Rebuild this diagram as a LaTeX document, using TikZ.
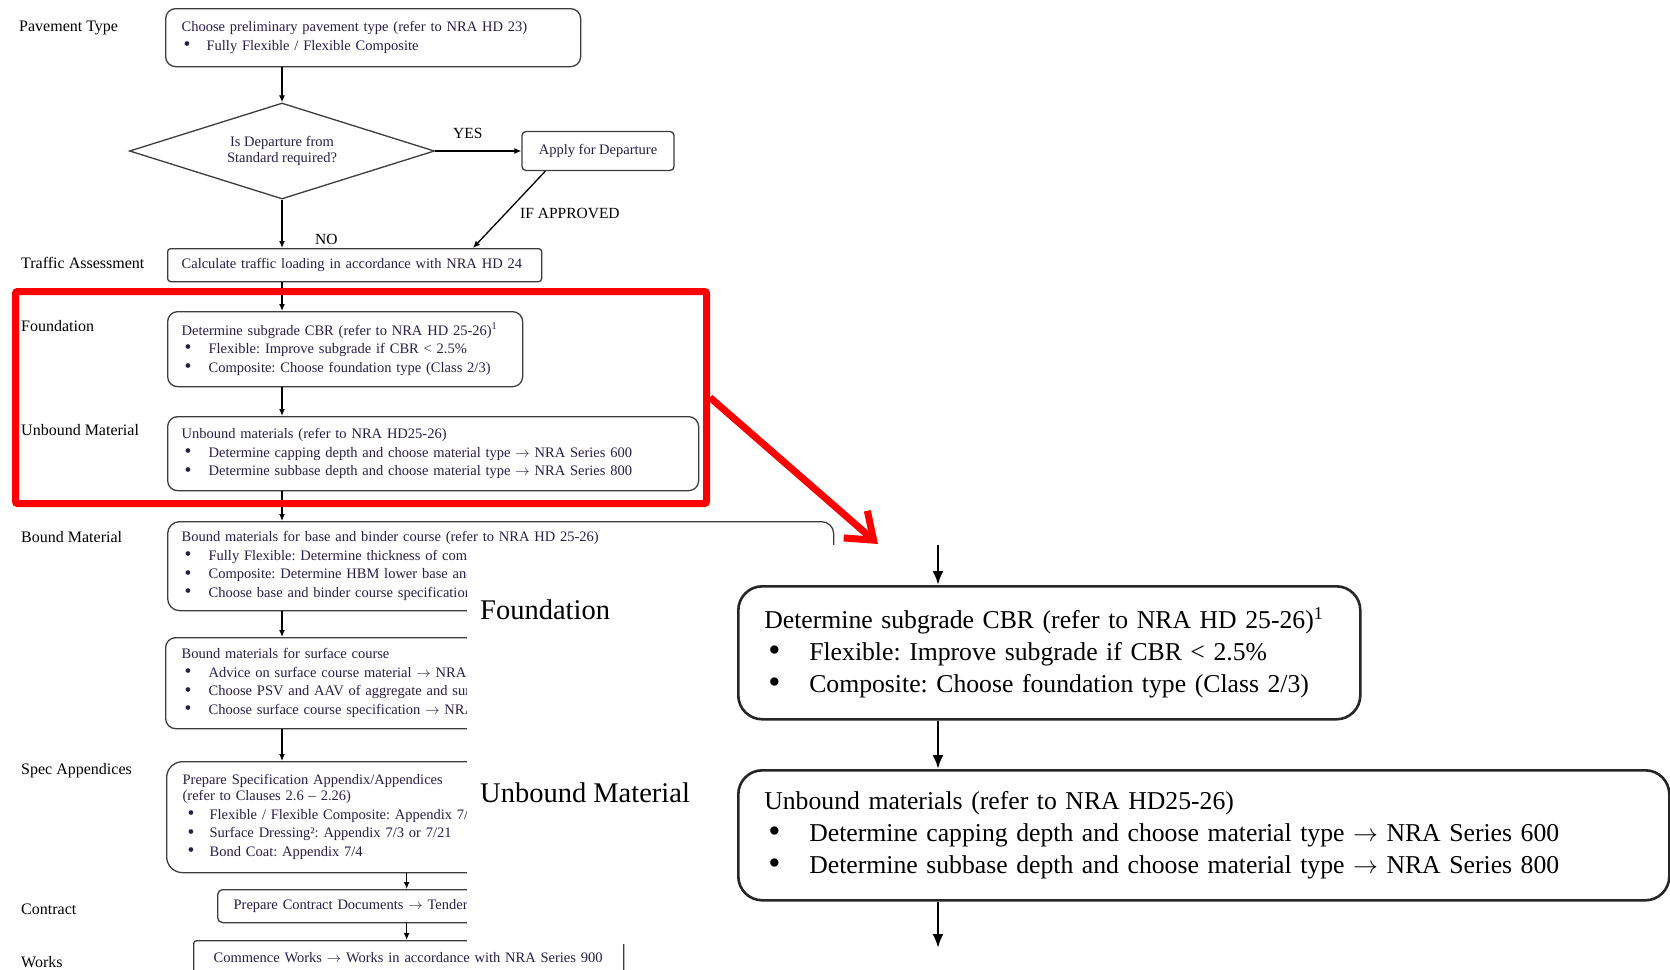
\documentclass[tikz,border=0pt]{standalone}
\usepackage{fontspec}
\setmainfont{Liberation Serif}
\usetikzlibrary{shapes.geometric,arrows.meta,calc}
\definecolor{ltext}{RGB}{40,30,70}
\definecolor{lline}{RGB}{60,60,60}
\newcommand\bitem[3]{\makebox[#1][l]{\hspace{#2}\raisebox{-0.03em}{\scalebox{1.35}{\textbullet}}}#3}
\newcommand\ar{\ensuremath{\rightarrow}}
\frenchspacing
\begin{document}
\begin{tikzpicture}[x=1pt,y=-1pt,
  lbl/.style={font=\fontsize{16}{19}\selectfont, anchor=base west, inner sep=0},
  box/.style={draw=lline, line width=1.3pt, rounded corners=10pt, align=left, inner ysep=0pt,
    anchor=north west, text=ltext, font=\fontsize{14.5}{18.5}\selectfont},
  arr/.style={draw=black, line width=1.3pt, -{Latex[length=7pt,width=6pt]}},
  clab/.style={font=\fontsize{15.5}{18}\selectfont, anchor=base west, inner sep=0},
  ibox/.style={draw=black!85, line width=2.6pt, rounded corners=24pt, align=left, inner xsep=26pt,
    inner ysep=0pt, anchor=north west, font=\fontsize{25.7}{32}\selectfont},
  iarr/.style={draw=black, line width=2.6pt, -{Latex[length=14pt,width=11pt]}},
  ilbl/.style={font=\fontsize{28.5}{34}\selectfont, anchor=base west, inner sep=0}
]
\useasboundingbox (0,0) rectangle (1670,969);
\fill[white] (0,0) rectangle (1670,969);

% ---- left labels
\node[lbl] (lpav) at (19,31) {Pavement Type};
\node[lbl] (ltraf) at (21,268) {Traffic Assessment};
\node[lbl] (lfound) at (21,331) {Foundation};
\node[lbl] (lunb) at (21,435) {Unbound Material};
\node[lbl] (lbound) at (21,542) {Bound Material};
\node[lbl] (lspec) at (21,774) {Spec Appendices};
\node[lbl] (lcon) at (21,914) {Contract};
\node[lbl] (lworks) at (21,967) {Works};

% ---- left chart
\node[box, inner xsep=16pt, text width=383pt, minimum height=58pt] (pav) at (165,8)
  {Choose preliminary pavement type (refer to NRA HD 23)\\
   \bitem{25pt}{2pt}{Fully Flexible / Flexible Composite}};
\node[diamond, draw=lline, line width=1.3pt, aspect=3.18, minimum width=305pt, minimum height=96pt,
  inner sep=0pt, align=center, text=ltext, font=\fontsize{14.5}{16}\selectfont] (dec) at (282,151)
  {Is Departure from\\Standard required?};
\node[draw=lline, line width=1.3pt, rounded corners=4pt, minimum width=152pt, minimum height=39pt,
  inner sep=0pt, text=ltext, font=\fontsize{14.5}{18}\selectfont] (apply) at (598,151) {Apply for Departure};
\node[box, rounded corners=3pt, inner xsep=14pt, text width=346pt, minimum height=33pt] (traf) at (167,248)
  {Calculate traffic loading in accordance with NRA HD 24};
\node[box, inner xsep=14pt, text width=327pt, minimum height=75pt] (found) at (167,311)
  {Determine subgrade CBR (refer to NRA HD 25-26)\textsuperscript{1}\\
   \bitem{27pt}{3pt}{Flexible: Improve subgrade if CBR < 2.5\%}\\
   \bitem{27pt}{3pt}{Composite: Choose foundation type (Class 2/3)}};
\node[box, inner xsep=14pt, text width=503pt, minimum height=74pt] (unb) at (167,416)
  {Unbound materials (refer to NRA HD25-26)\\
   \bitem{27pt}{3pt}{Determine capping depth and choose material type \ar{} NRA Series 600}\\
   \bitem{27pt}{3pt}{Determine subbase depth and choose material type \ar{} NRA Series 800}};
\node[box, rounded corners=12pt, inner xsep=14pt, text width=638pt, minimum height=89pt] (bound) at (167,521)
  {Bound materials for base and binder course (refer to NRA HD 25-26)\\
   \bitem{27pt}{3pt}{Fully Flexible: Determine thickness of com}\\
   \bitem{27pt}{3pt}{Composite: Determine HBM lower base and}\\
   \bitem{27pt}{3pt}{Choose base and binder course specification}};
\node[box, inner xsep=16pt, text width=588pt, minimum height=91pt] (surf) at (165,637)
  {Bound materials for surface course\\
   \bitem{27pt}{3pt}{Advice on surface course material \ar{} NRA}\\
   \bitem{27pt}{3pt}{Choose PSV and AAV of aggregate and sur}\\
   \bitem{27pt}{3pt}{Choose surface course specification \ar{} NRA}};
\node[box, rounded corners=16pt, inner xsep=16pt, text width=448pt, minimum height=111pt] (spec) at (166,761)
  {Prepare Specification Appendix/Appendices\\[-2.5pt]
   (refer to Clauses 2.6 – 2.26)\\
   \bitem{27pt}{5pt}{Flexible / Flexible Composite: Appendix 7/}\\
   \bitem{27pt}{5pt}{Surface Dressing²: Appendix 7/3 or 7/21}\\
   \bitem{27pt}{5pt}{Bond Coat: Appendix 7/4}};
\node[box, rounded corners=5pt, inner xsep=16pt, text width=346pt, minimum height=33pt] (con) at (217,889)
  {Prepare Contract Documents \ar{} Tender};
\node[box, rounded corners=3pt, inner xsep=20pt, text width=390pt, minimum height=34pt] (works) at (193,940)
  {Commence Works \ar{} Works in accordance with NRA Series 900};

% ---- left connectors
\draw[arr] (pav.south -| dec) -- (dec.north);
\draw[arr] (dec.east) -- (apply.west);
\node[clab] (yes) at (453,138) {YES};
\draw[arr] ([xshift=24pt]apply.south west) -- ([xshift=306pt]traf.north west);
\node[clab] (ifapp) at (520,218) {IF APPROVED};
\draw[arr] (dec.south) -- (traf.north -| dec);
\node[clab] (no) at (315,244) {NO};
\draw[arr] (traf.south -| dec) -- (found.north -| dec);
\draw[arr] (found.south -| dec) -- (unb.north -| dec);
\draw[arr] (unb.south -| dec) -- (bound.north -| dec);
\draw[arr] (bound.south -| dec) -- (surf.north -| dec);
\draw[arr] (surf.south -| dec) -- (spec.north -| dec);
\draw[arr] (spec.south) -- (con.north -| spec.south);
\draw[arr] (con.south -| spec.south) -- (works.north -| spec.south);

% ---- red highlight and arrow
\node[draw=red, line width=7pt, rounded corners=2pt, minimum width=691pt, minimum height=212pt,
  inner sep=0pt, anchor=north west] (hl) at (12,288) {};
\coordinate (rtip) at (878,544);
\draw[red, line width=7pt, -{Straight Barb[length=24pt,width=36pt]}] (hl.east) -- (rtip);

% ---- cover of the inset
\fill[white] (467,545) rectangle (1680,944);

% ---- inset
\node[ilbl] (ifl) at (480,619) {Foundation};
\node[ilbl] (iul) at (480,802) {Unbound Material};
\node[ibox, text width=570pt, minimum height=133pt] (ifound) at (737,585)
  {Determine subgrade CBR (refer to NRA HD 25-26)\textsuperscript{1}\\
   \bitem{45pt}{4pt}{Flexible: Improve subgrade if CBR < 2.5\%}\\
   \bitem{45pt}{4pt}{Composite: Choose foundation type (Class 2/3)}};
\node[ibox, text width=879pt, minimum height=130pt] (iunb) at (737,769)
  {Unbound materials (refer to NRA HD25-26)\\
   \bitem{45pt}{4pt}{Determine capping depth and choose material type \ar{} NRA Series 600}\\
   \bitem{45pt}{4pt}{Determine subbase depth and choose material type \ar{} NRA Series 800}};
\coordinate (itop) at (938,545);
\coordinate (ibot) at (938,948);
\draw[iarr] (itop) -- (ifound.north -| itop);
\draw[iarr] (ifound.south -| itop) -- (iunb.north -| itop);
\draw[iarr] (iunb.south -| itop) -- (ibot);
\end{tikzpicture}
\end{document}
